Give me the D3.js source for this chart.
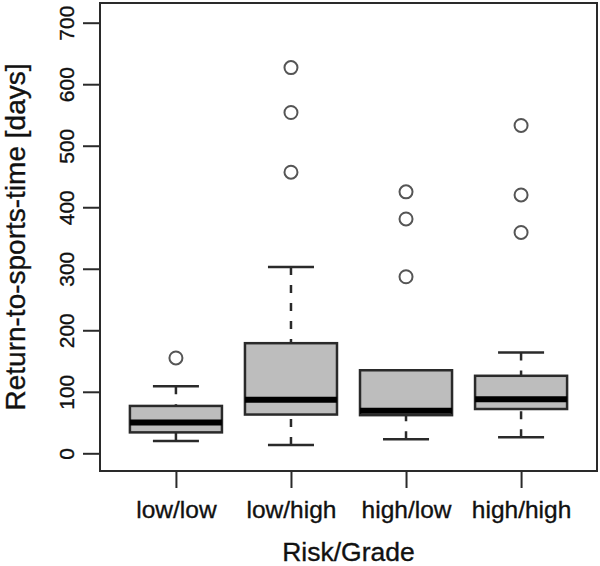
<!DOCTYPE html>
<html>
<head>
<meta charset="utf-8">
<script src="https://cdn.jsdelivr.net/npm/d3@7"></script>
<style>
    body { margin: 0; background: #fff; }
    text { font-family: "Liberation Sans", Arial, sans-serif; fill: #111; stroke: #111; stroke-width: 0.35px; }
</style>
</head>
<body>
<script>
// values
const categories = ["low/low", "low/high", "high/low", "high/high"];
const whiskerLow = [20, 13.5, 23, 26];
const q1 = [34, 63, 62, 72];
const medians = [50, 87, 69, 88];
const q3 = [77, 179, 135, 126];
const whiskerHigh = [109, 303, 135, 164];
const outliers = [[155], [457, 554, 627], [287, 381, 425], [359, 420, 533]];
const yTicks = [0, 100, 200, 300, 400, 500, 600, 700];

let width = 600,
    height = 566;

let plotLeft = 100, plotRight = 597, plotTop = 3, plotBottom = 471;

let svg = d3.select("body").append("svg")
    .attr("width", width)
    .attr("height", height);

let x = d3.scaleLinear()
    .domain([0.34, 4.66])
    .range([plotLeft, plotRight]);

let y = d3.scaleLinear()
    .domain([0, 700])
    .range([453.3, 22.7]);

let boxWidth = x(1.4) - x(0.6);
let capWidth = boxWidth / 2;

let data = categories.map(function (c, i) {
    return {
        name: c,
        pos: i + 1,
        lo: whiskerLow[i],
        q1: q1[i],
        med: medians[i],
        q3: q3[i],
        hi: whiskerHigh[i],
        out: outliers[i]
    };
});

let lineColor = "#2a2a2a";

let groups = svg.selectAll(".box")
    .data(data)
    .enter().append("g")
    .attr("class", "box");

// whiskers (dashed)
groups.append("line")
    .attr("x1", function (d) { return x(d.pos); })
    .attr("x2", function (d) { return x(d.pos); })
    .attr("y1", function (d) { return y(d.hi); })
    .attr("y2", function (d) { return y(d.q3); })
    .attr("stroke", lineColor)
    .attr("stroke-width", 2.5)
    .attr("stroke-dasharray", "8,10");

groups.append("line")
    .attr("x1", function (d) { return x(d.pos); })
    .attr("x2", function (d) { return x(d.pos); })
    .attr("y1", function (d) { return y(d.lo); })
    .attr("y2", function (d) { return y(d.q1); })
    .attr("stroke", lineColor)
    .attr("stroke-width", 2.5)
    .attr("stroke-dasharray", "8,10");

// caps
groups.selectAll(".cap")
    .data(function (d) { return [{ pos: d.pos, v: d.lo }, { pos: d.pos, v: d.hi }]; })
    .enter().append("line")
    .attr("class", "cap")
    .attr("x1", function (d) { return x(d.pos) - capWidth / 2; })
    .attr("x2", function (d) { return x(d.pos) + capWidth / 2; })
    .attr("y1", function (d) { return y(d.v); })
    .attr("y2", function (d) { return y(d.v); })
    .attr("stroke", lineColor)
    .attr("stroke-width", 2.5);

// boxes
groups.append("rect")
    .attr("x", function (d) { return x(d.pos) - boxWidth / 2; })
    .attr("width", boxWidth)
    .attr("y", function (d) { return y(d.q3); })
    .attr("height", function (d) { return y(d.q1) - y(d.q3); })
    .attr("fill", "#bdbdbd")
    .attr("stroke", lineColor)
    .attr("stroke-width", 2.5);

// medians
groups.append("line")
    .attr("x1", function (d) { return x(d.pos) - boxWidth / 2; })
    .attr("x2", function (d) { return x(d.pos) + boxWidth / 2; })
    .attr("y1", function (d) { return y(d.med); })
    .attr("y2", function (d) { return y(d.med); })
    .attr("stroke", "#000")
    .attr("stroke-width", 6);

// outliers
groups.selectAll(".outlier")
    .data(function (d) { return d.out.map(function (v) { return { pos: d.pos, v: v }; }); })
    .enter().append("circle")
    .attr("class", "outlier")
    .attr("cx", function (d) { return x(d.pos); })
    .attr("cy", function (d) { return y(d.v); })
    .attr("r", 6.5)
    .attr("fill", "none")
    .attr("stroke", "#555")
    .attr("stroke-width", 2);

// frame
svg.append("rect")
    .attr("x", plotLeft)
    .attr("y", plotTop)
    .attr("width", plotRight - plotLeft)
    .attr("height", plotBottom - plotTop)
    .attr("fill", "none")
    .attr("stroke", lineColor)
    .attr("stroke-width", 2);

// y axis
let yAxis = d3.axisLeft(y)
    .tickValues(yTicks)
    .tickSize(17)
    .tickSizeOuter(0)
    .tickPadding(10);

let yg = svg.append("g")
    .attr("transform", "translate(" + plotLeft + ",0)")
    .call(yAxis);
yg.select(".domain").remove();
yg.selectAll(".tick line").attr("stroke", lineColor).attr("stroke-width", 2);
yg.selectAll(".tick text")
    .attr("font-size", 21)
    .attr("font-family", "Liberation Sans, Arial, sans-serif")
    .attr("fill", "#111")
    .attr("x", null).attr("dy", null)
    .attr("text-anchor", "middle")
    .attr("transform", "translate(-26,0) rotate(-90)");

// x axis
let xAxis = d3.axisBottom(x)
    .tickValues([1, 2, 3, 4])
    .tickFormat(function (d) { return categories[d - 1]; })
    .tickSize(17)
    .tickSizeOuter(0)
    .tickPadding(13);

let xg = svg.append("g")
    .attr("transform", "translate(0," + plotBottom + ")")
    .call(xAxis);
xg.select(".domain").remove();
xg.selectAll(".tick line").attr("stroke", lineColor).attr("stroke-width", 2);
xg.selectAll(".tick text")
    .attr("font-size", 24.5)
    .attr("font-family", "Liberation Sans, Arial, sans-serif")
    .attr("fill", "#111");

// axis titles
svg.append("text")
    .attr("x", (plotLeft + plotRight) / 2)
    .attr("y", 561)
    .attr("text-anchor", "middle")
    .attr("font-size", 26.5)
    .text("Risk/Grade");

svg.append("text")
    .attr("transform", "translate(25," + (plotTop + plotBottom) / 2 + ") rotate(-90)")
    .attr("text-anchor", "middle")
    .attr("font-size", 28)
    .text("Return-to-sports-time [days]");
</script>
</body>
</html>
